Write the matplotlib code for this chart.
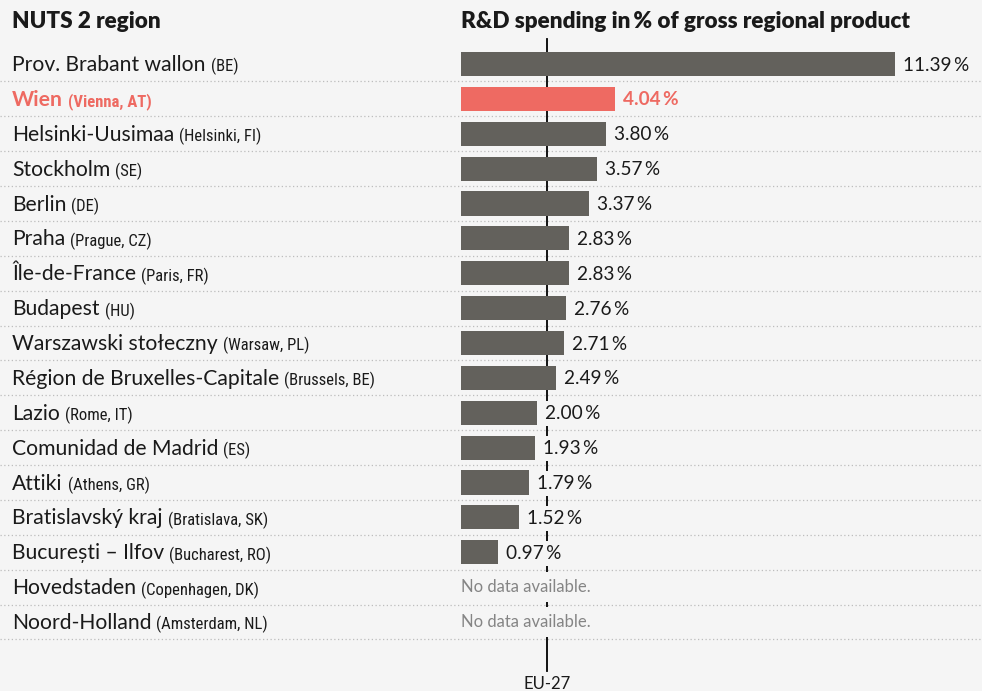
import matplotlib
matplotlib.use('Agg')
import matplotlib.pyplot as plt
import matplotlib.transforms as mtransforms
from matplotlib import font_manager

# data
regions = ["Prov. Brabant wallon", "Wien", "Helsinki-Uusimaa", "Stockholm", "Berlin",
           "Praha", "Île-de-France", "Budapest", "Warszawski stołeczny",
           "Région de Bruxelles-Capitale", "Lazio", "Comunidad de Madrid", "Attiki",
           "Bratislavský kraj", "București – Ilfov", "Hovedstaden", "Noord-Holland"]
notes = ["(BE)", "(Vienna, AT)", "(Helsinki, FI)", "(SE)", "(DE)", "(Prague, CZ)",
         "(Paris, FR)", "(HU)", "(Warsaw, PL)", "(Brussels, BE)", "(Rome, IT)", "(ES)",
         "(Athens, GR)", "(Bratislava, SK)", "(Bucharest, RO)", "(Copenhagen, DK)",
         "(Amsterdam, NL)"]
values = [11.39, 4.04, 3.80, 3.57, 3.37, 2.83, 2.83, 2.76, 2.71, 2.49, 2.00, 1.93,
          1.79, 1.52, 0.97, None, None]
highlight = "Wien"
eu27 = 2.27

bg = '#f5f5f5'
bar_col = '#63615c'
hi_col = '#ee6a62'
txt = '#1a1a1a'

names = {f.name for f in font_manager.fontManager.ttflist}
main_font = 'Lato' if 'Lato' in names else 'DejaVu Sans'
narrow_font = main_font
for cand in ['Roboto Condensed', 'Open Sans Condensed', 'Liberation Sans Narrow',
             'Noto Sans Condensed', 'DejaVu Sans Condensed']:
    if cand in names:
        narrow_font = cand
        break

W, H = 982, 691
fig = plt.figure(figsize=(W / 100, H / 100), dpi=100, facecolor=bg)
ax = fig.add_axes([0, 0, 1, 1])
ax.set_facecolor(bg)
ax.axis('off')

px = 38.1          # pixels per percentage point
x0 = 461           # bar origin in pixels
row0, step = 64, 34.875
ax.set_xlim(-x0 / px, (W - x0) / px)
ax.set_ylim((H - row0) / step, -row0 / step)

n = len(regions)
ys = list(range(n))

# EU-27 reference line
ax.plot([eu27, eu27], [(39 - row0) / step, (671 - row0) / step], color='black', lw=1.3, zorder=1)
ax.text(eu27, (684 - row0) / step, 'EU-27', ha='center', va='center', fontsize=12,
        family=main_font, color=txt)

# separators
for i in range(n):
    ax.axhline(i + 0.5, color='#bdbdbd', lw=0.9, ls=(0, (1, 2)), zorder=0)

# bars and values
for y, r, v in zip(ys, regions, values):
    c = hi_col if r == highlight else bar_col
    if v is None:
        ax.text(0, y, 'No data available.', ha='left', va='center', fontsize=12,
                family=main_font, color='#858585', zorder=3,
                bbox=dict(facecolor=bg, edgecolor='none', pad=5))
        continue
    ax.barh(y, v, height=0.69, color=c, zorder=2)
    ax.text(v + 8 / px, y + 0.03, f'{v:.2f}\u2009%', ha='left', va='center', fontsize=13.7,
            family=main_font, color=c if r == highlight else txt,
            fontweight='bold' if r == highlight else 'normal', zorder=3,
            bbox=dict(facecolor=bg, edgecolor='none', pad=3))

# headers
ax.text(12 / W, 1 - 22 / H, 'NUTS 2 region', transform=fig.transFigure, ha='left',
        va='center', fontsize=16.2, fontweight='heavy', family=main_font, color=txt)
ax.text(x0 / W, 1 - 22 / H, 'R&D spending in\u2009% of gross regional product',
        transform=fig.transFigure, ha='left', va='center', fontsize=16.2,
        fontweight='heavy', family=main_font, color=txt)

# region labels
trans = mtransforms.blended_transform_factory(fig.transFigure, ax.transData)
renderer = fig.canvas.get_renderer()
for y, r, nt in zip(ys, regions, notes):
    c = hi_col if r == highlight else txt
    fw = 'bold' if r == highlight else 'normal'
    t = ax.text(12 / W, y + 0.03, r, transform=trans, ha='left', va='center',
                fontsize=15.2, family=main_font, color=c, fontweight=fw)
    bb = t.get_window_extent(renderer)
    ax.text((bb.x1 + 5) / W, y + 0.08, nt, transform=trans, ha='left', va='center',
            fontsize=12, family=narrow_font, color=c, fontweight=fw)

fig.savefig('out.png', dpi=100, facecolor=bg)
